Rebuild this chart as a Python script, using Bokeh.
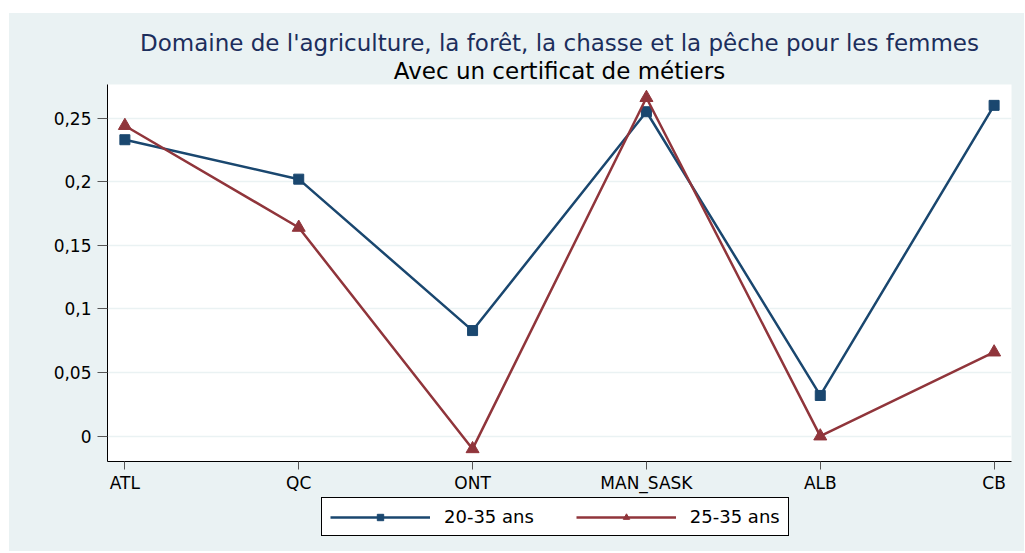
from bokeh.plotting import figure
from bokeh.layouts import column
from bokeh.models import (FixedTicker, Range1d, Title, Legend, LegendItem)
from bokeh.embed import file_html
from bokeh.resources import INLINE

# ---- data ----
regions = ["ATL", "QC", "ONT", "MAN_SASK", "ALB", "CB"]
ans_20_35 = [0.233, 0.202, 0.083, 0.255, 0.032, 0.260]
ans_25_35 = [0.244, 0.164, -0.010, 0.266, 0.000, 0.066]
y_ticks = [0, 0.05, 0.1, 0.15, 0.2, 0.25]
y_tick_labels = ["0", "0,05", "0,1", "0,15", "0,2", "0,25"]
series_labels = ["20-35 ans", "25-35 ans"]
title_text = "Domaine de l'agriculture, la forêt, la chasse et la pêche pour les femmes"
subtitle_text = "Avec un certificat de métiers"

BG = "#eaf2f3"
BLUE = "#1a476f"
RED = "#90353b"
FONT = "DejaVu Sans"

xs = list(range(len(regions)))


def draw_series(fig):
    l1 = fig.line(xs, ans_20_35, line_color=BLUE, line_width=2.5)
    m1 = fig.scatter(xs, ans_20_35, marker="square", size=10, fill_color=BLUE,
                     line_color=BLUE)
    l2 = fig.line(xs, ans_25_35, line_color=RED, line_width=2.5)
    m2 = fig.scatter(xs, ans_25_35, marker="triangle", size=13, fill_color=RED,
                     line_color=RED)
    return (l1, m1), (l2, m2)


# ---- main chart ----
p = figure(width=1015, height=482, output_backend="svg", toolbar_location=None,
           x_range=Range1d(-0.1, 5.1), y_range=Range1d(-0.0199, 0.2764),
           min_border_left=98, min_border_right=13, min_border_top=71,
           min_border_bottom=34, title=None)
p.background_fill_color = "white"
p.border_fill_color = BG
p.outline_line_color = None

p.add_layout(Title(text=subtitle_text, align="center", text_font=FONT,
                   text_font_size="23px", text_font_style="normal",
                   text_color="black", standoff=2), "above")
p.add_layout(Title(text=title_text, align="center", text_font=FONT,
                   text_font_size="23px", text_font_style="normal",
                   text_color="#1c2e5c", standoff=-3), "above")

p.xgrid.visible = False
p.ygrid.ticker = FixedTicker(ticks=y_ticks)
p.ygrid.grid_line_color = BG
p.ygrid.grid_line_width = 1.5

p.yaxis.ticker = FixedTicker(ticks=y_ticks)
p.yaxis.major_label_overrides = {t: l for t, l in zip(y_ticks, y_tick_labels)}
p.xaxis.ticker = FixedTicker(ticks=xs)
p.xaxis.major_label_overrides = {i: r for i, r in zip(xs, regions)}
for ax in (p.xaxis, p.yaxis):
    ax.axis_line_color = "black"
    ax.axis_line_width = 1
    ax.major_tick_line_color = "#555555"
    ax.major_tick_in = 0
    ax.minor_tick_line_color = None
    ax.major_label_text_font = FONT
    ax.major_label_text_font_size = "17px"
    ax.major_label_text_color = "black"
p.yaxis.major_tick_out = 10
p.yaxis.major_label_standoff = 6
p.yaxis.major_label_orientation = "horizontal"
p.xaxis.major_tick_out = 8
p.xaxis.major_label_standoff = 3

draw_series(p)

# ---- legend strip (same series, drawn outside its visible range) ----
q = figure(width=1015, height=56, output_backend="svg", toolbar_location=None,
           x_range=Range1d(100, 101), y_range=Range1d(100, 101),
           x_axis_location=None, y_axis_location=None, min_border=0,
           title=None)
q.background_fill_color = BG
q.border_fill_color = BG
q.outline_line_color = None
q.grid.visible = False
(ql1, qm1), (ql2, qm2) = draw_series(q)

legend = Legend(items=[LegendItem(label=series_labels[0], renderers=[ql1, qm1]),
                       LegendItem(label=series_labels[1], renderers=[ql2, qm2])],
                orientation="horizontal", location=(214, 15))
legend.label_text_font = FONT
legend.label_text_font_size = "18px"
legend.label_text_color = "black"
legend.glyph_width = 100
legend.glyph_height = 16
legend.label_height = 16
legend.label_standoff = 14
legend.spacing = 42
legend.padding = 8
legend.margin = 0
legend.border_line_color = "black"
legend.border_line_width = 1
legend.border_line_alpha = 1
legend.background_fill_color = "white"
legend.background_fill_alpha = 1
q.add_layout(legend)

layout = column(p, q, spacing=0, margin=(13, 0, 0, 9),
                styles={"background-color": BG})
open("out.html", "w").write(file_html(layout, INLINE))
